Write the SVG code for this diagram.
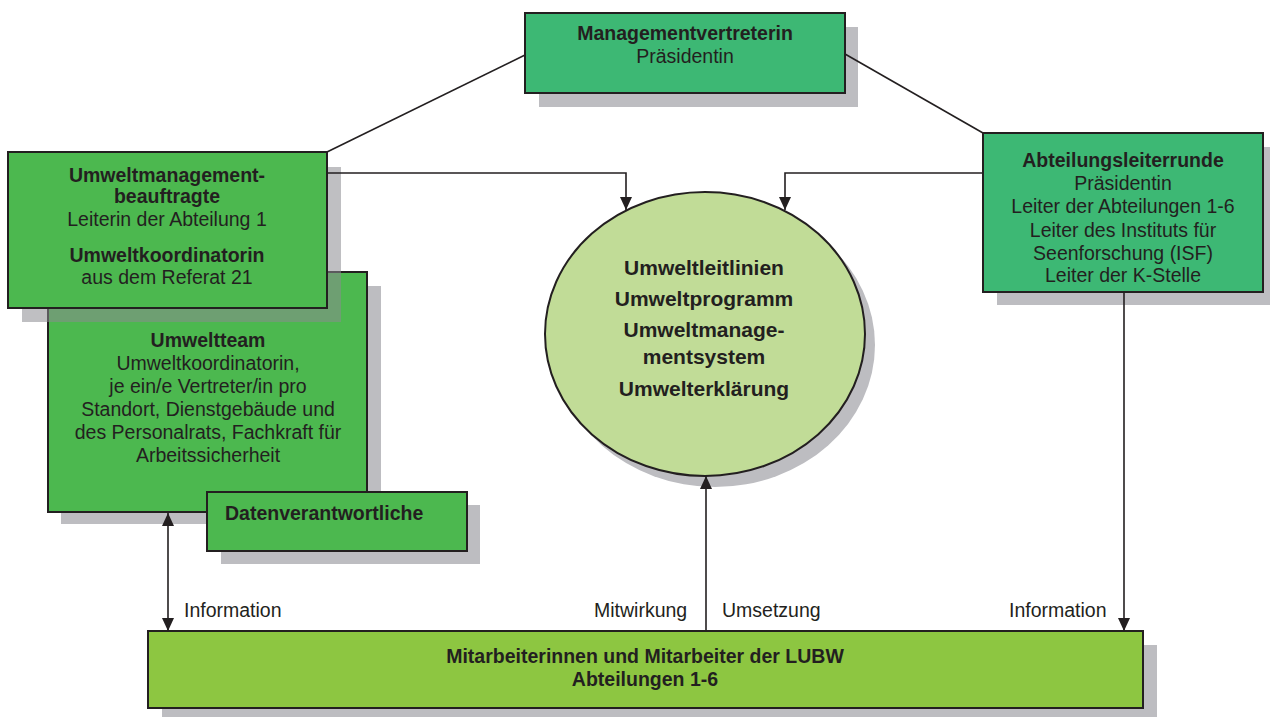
<svg xmlns="http://www.w3.org/2000/svg" width="1270" height="717" viewBox="0 0 1270 717">
<style>
  text { font-family: "Liberation Sans", Arial, sans-serif; font-size: 19.5px; fill: #231f20; text-anchor: middle; }
  .b { font-weight: bold; }
  .l { text-anchor: start; }
  .e { font-size: 21px; font-weight: bold; }
  .shadow { fill: #bdbdc1; }
  .box { stroke: #231f20; stroke-width: 2; }
  .teal { fill: #3db874; }
  .green { fill: #4cb84f; }
  .lime { fill: #8dc641; }
  .conn { fill: none; stroke: #231f20; stroke-width: 1.6; }
</style>
<defs>
  <marker id="arr" markerUnits="userSpaceOnUse" markerWidth="13" markerHeight="12" refX="13" refY="6" orient="auto-start-reverse">
    <path d="M0,0 L13,6 L0,12 z" fill="#231f20"/>
  </marker>
</defs>
<rect width="1270" height="717" fill="#ffffff"/>

<g id="management">
  <rect class="shadow" x="539" y="27" width="319" height="80"/>
  <rect class="box teal" x="525" y="13" width="320" height="80"/>
  <text class="b" x="685" y="40">Managementvertreterin</text>
  <text x="685" y="63">Präsidentin</text>
</g>

<g id="umweltteam">
  <rect class="shadow" x="61" y="286" width="320" height="238"/>
  <rect class="box green" x="48" y="272" width="319" height="240"/>
  <text class="b" x="208" y="347">Umweltteam</text>
  <text x="208" y="370">Umweltkoordinatorin,</text>
  <text x="208" y="393">je ein/e Vertreter/in pro</text>
  <text x="208" y="416">Standort, Dienstgebäude und</text>
  <text x="208" y="439">des Personalrats, Fachkraft für</text>
  <text x="208" y="462">Arbeitssicherheit</text>
</g>

<g id="datenverantwortliche">
  <rect class="shadow" x="221" y="505" width="259" height="59"/>
  <rect class="box green" x="207" y="492" width="260" height="59"/>
  <text class="b l" x="225" y="520">Datenverantwortliche</text>
</g>

<g id="umweltmanagementbeauftragte">
  <rect x="22" y="167" width="319" height="155" fill="#8a8a90" fill-opacity="0.55"/>
  <rect class="box green" x="8" y="152" width="319" height="156"/>
  <text class="b" x="167" y="182">Umweltmanagement-</text>
  <text class="b" x="167" y="203">beauftragte</text>
  <text x="167" y="226">Leiterin der Abteilung 1</text>
  <text class="b" x="167" y="262">Umweltkoordinatorin</text>
  <text x="167" y="284">aus dem Referat 21</text>
</g>

<g id="abteilungsleiterrunde">
  <rect class="shadow" x="997" y="147" width="280" height="158"/>
  <rect class="box teal" x="983" y="133" width="280" height="159"/>
  <text class="b" x="1123" y="167">Abteilungsleiterrunde</text>
  <text x="1123" y="190">Präsidentin</text>
  <text x="1123" y="213">Leiter der Abteilungen 1-6</text>
  <text x="1123" y="237">Leiter des Instituts für</text>
  <text x="1123" y="260">Seenforschung (ISF)</text>
  <text x="1123" y="282">Leiter der K-Stelle</text>
</g>

<g id="umwelt-ellipse">
  <ellipse class="shadow" cx="715" cy="345" rx="160" ry="142"/>
  <ellipse cx="705" cy="334" rx="160" ry="142" fill="#c1dc97" stroke="#231f20" stroke-width="2"/>
  <text class="e" x="704" y="275">Umweltleitlinien</text>
  <text class="e" x="704" y="306">Umweltprogramm</text>
  <text class="e" x="704" y="337">Umweltmanage-</text>
  <text class="e" x="704" y="364">mentsystem</text>
  <text class="e" x="704" y="396">Umwelterklärung</text>
</g>

<g id="mitarbeiter">
  <rect class="shadow" x="162" y="645" width="995" height="77"/>
  <rect class="box lime" x="148" y="631" width="995" height="77"/>
  <text class="b" x="645" y="663">Mitarbeiterinnen und Mitarbeiter der LUBW</text>
  <text class="b" x="645" y="686">Abteilungen 1-6</text>
</g>

<g id="connectors">
  <line class="conn" x1="525" y1="55" x2="327" y2="152"/>
  <line class="conn" x1="845" y1="54" x2="983" y2="133"/>
  <polyline class="conn" points="327,173 626,173 626,210" marker-end="url(#arr)"/>
  <polyline class="conn" points="983,173 785,173 785,210" marker-end="url(#arr)"/>
  <line class="conn" x1="1124" y1="292" x2="1124" y2="631" marker-end="url(#arr)"/>
  <line class="conn" x1="168" y1="513" x2="168" y2="631" marker-start="url(#arr)" marker-end="url(#arr)"/>
  <line class="conn" x1="706" y1="631" x2="706" y2="476" marker-end="url(#arr)"/>
  <text class="l" x="184" y="617">Information</text>
  <text class="l" x="594" y="617">Mitwirkung</text>
  <text class="l" x="722" y="617">Umsetzung</text>
  <text class="l" x="1009" y="617">Information</text>
</g>
</svg>
